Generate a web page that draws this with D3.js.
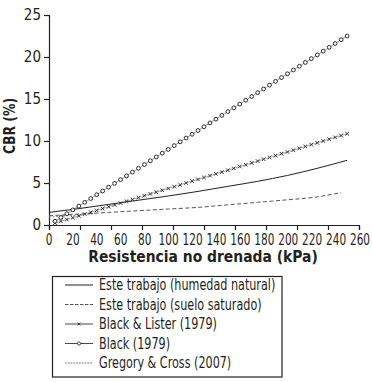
<!DOCTYPE html>
<html><head><meta charset="utf-8">
<script src="https://cdn.jsdelivr.net/npm/d3@7"></script>
<style>
body{margin:0;background:#fff;}
svg{display:block;}
text{font-family:"Liberation Sans Narrow","DejaVu Sans Condensed",sans-serif;fill:#231f20;}
</style></head><body>
<svg id="c" width="372" height="382"></svg>
<script>
const xLabels = ["0","20","40","60","80","100","120","140","160","180","200","220","240","260"];
const yTicks = [0,5,10,15,20,25];
const suMarkers = [5,10,15,20,25,30,35,40,45,50,55,60,65,70,75,80,85,90,95,100,105,110,115,120,125,130,135,140,145,150,155,160,165,170,175,180,185,190,195,200,205,210,215,220,225,230,235,240,245,250];
const blackLister = [0.22,0.43,0.65,0.87,1.09,1.30,1.52,1.74,1.96,2.17,2.39,2.61,2.83,3.04,3.26,3.48,3.70,3.91,4.13,4.35,4.57,4.78,5.00,5.22,5.43,5.65,5.87,6.09,6.30,6.52,6.74,6.96,7.17,7.39,7.61,7.83,8.04,8.26,8.48,8.70,8.91,9.13,9.35,9.57,9.78,10.00,10.22,10.43,10.65,10.87];
const black1979 = [0.45,0.9,1.35,1.8,2.25,2.7,3.15,3.6,4.05,4.5,4.95,5.4,5.85,6.3,6.75,7.2,7.65,8.1,8.55,9.0,9.45,9.9,10.35,10.8,11.25,11.7,12.15,12.6,13.05,13.5,13.95,14.4,14.85,15.3,15.75,16.2,16.65,17.1,17.55,18.0,18.45,18.9,19.35,19.8,20.25,20.7,21.15,21.6,22.05,22.5];
const suNatural = [0,25,50,75,100,125,150,175,200,225,250];
const natural = [1.5,1.95,2.45,2.95,3.45,4.0,4.6,5.2,5.9,6.75,7.7];
const suSaturated = [0,25,50,75,100,125,150,175,200,225,245];
const saturated = [1.1,1.3,1.5,1.7,1.9,2.1,2.4,2.7,3.0,3.35,3.85];
const suGregory = [0,10,20,30,40];
const gregory = [0.95,1.05,1.15,1.25,1.35];
const legendNames = ["Este trabajo (humedad natural)","Este trabajo (suelo saturado)","Black & Lister (1979)","Black (1979)","Gregory & Cross (2007)"];

const svg = d3.select("#c");
const x = d3.scaleLinear().domain([0,260]).range([49,359]);
const y = d3.scaleLinear().domain([0,25]).range([225,15]);
const xl = d3.scalePoint().domain(xLabels).range([49,360]);

// y axis
const ya = svg.append("g").attr("transform","translate(49,0)")
  .call(d3.axisLeft(y).tickValues(yTicks).tickSize(5).tickPadding(3));
ya.select(".domain").attr("stroke","#231f20").attr("stroke-width",1.2);
ya.selectAll(".tick line").attr("stroke","#231f20").attr("stroke-width",1.2);
ya.selectAll(".tick text").style("font-size","15px").style("font-family",null).attr("fill","#231f20");

// x axis (ticks)
const xa = svg.append("g").attr("transform","translate(0,225)")
  .call(d3.axisBottom(x).tickValues(d3.range(0,261,26)).tickSize(5).tickFormat(""));
xa.select(".domain").attr("stroke","#231f20").attr("stroke-width",1.2);
xa.selectAll(".tick line").attr("stroke","#231f20").attr("stroke-width",1.2);

// x labels
svg.append("g").selectAll("text").data(xLabels).join("text")
  .attr("transform",d=>`translate(${xl(d)},245) scale(0.78,1)`)
  .attr("text-anchor","middle").style("font-size","15px").text(d=>d);

svg.append("text").attr("transform","translate(203,262) scale(1.03,1)").attr("text-anchor","middle")
  .style("font-size","15px").style("font-weight","bold").text("Resistencia no drenada (kPa)");
svg.append("text").attr("transform","translate(15,126) rotate(-90) scale(0.92,1)").attr("text-anchor","middle")
  .style("font-size","15px").style("font-weight","bold").text("CBR (%)");

const line = d3.line().x(d=>x(d[0])).y(d=>y(d[1]));
const lineC = d3.line().x(d=>x(d[0])).y(d=>y(d[1])).curve(d3.curveMonotoneX);
const plot = svg.append("g");

plot.append("path").datum(suSaturated.map((s,i)=>[s,saturated[i]])).attr("d",lineC)
  .attr("fill","none").attr("stroke","#555").attr("stroke-width",1).attr("stroke-dasharray","4,2.5");
plot.append("path").datum(suGregory.map((s,i)=>[s,gregory[i]])).attr("d",line)
  .attr("fill","none").attr("stroke","#777").attr("stroke-width",0.8).attr("stroke-dasharray","2,1.5");
plot.append("path").datum(suNatural.map((s,i)=>[s,natural[i]])).attr("d",lineC)
  .attr("fill","none").attr("stroke","#231f20").attr("stroke-width",1);

const bl = suMarkers.map((s,i)=>[s,blackLister[i]]);
plot.append("path").datum(bl).attr("d",line).attr("fill","none").attr("stroke","#555").attr("stroke-width",0.5);
plot.append("g").selectAll("path").data(bl).join("path")
  .attr("d",d=>{const cx=x(d[0]),cy=y(d[1]),r=1.8;return `M${cx-r},${cy-r}L${cx+r},${cy+r}M${cx-r},${cy+r}L${cx+r},${cy-r}`;})
  .attr("stroke","#333").attr("stroke-width",1);

const bk = suMarkers.map((s,i)=>[s,black1979[i]]);
plot.append("path").datum(bk).attr("d",line).attr("fill","none").attr("stroke","#555").attr("stroke-width",0.6);
plot.append("g").selectAll("circle").data(bk).join("circle")
  .attr("cx",d=>x(d[0])).attr("cy",d=>y(d[1])).attr("r",1.9)
  .attr("fill","#fff").attr("stroke","#2a2a2a").attr("stroke-width",1);

// legend
const lg = svg.append("g");
lg.append("rect").attr("x",52.5).attr("y",276.5).attr("width",229.5).attr("height",100.5)
  .attr("fill","none").attr("stroke","#231f20").attr("stroke-width",1.2);
const rowY = d3.scalePoint().domain(legendNames).range([285,363]);
const styles = [
  {stroke:"#231f20",dash:null,w:1},
  {stroke:"#555",dash:"3.5,1.5",w:1},
  {stroke:"#333",dash:null,w:0.9,m:"x"},
  {stroke:"#333",dash:null,w:0.9,m:"o"},
  {stroke:"#555",dash:"1.8,1",w:0.8}
];
legendNames.forEach((n,i)=>{
  const yy = rowY(n), st = styles[i];
  lg.append("line").attr("x1",65).attr("x2",93).attr("y1",yy).attr("y2",yy)
    .attr("stroke",st.stroke).attr("stroke-width",st.w).attr("stroke-dasharray",st.dash);
  if(st.m==="x"){const r=1.4;lg.append("path").attr("d",`M${79-r},${yy-r}L${79+r},${yy+r}M${79-r},${yy+r}L${79+r},${yy-r}`).attr("stroke","#333").attr("stroke-width",0.9);}
  if(st.m==="o"){lg.append("circle").attr("cx",79).attr("cy",yy).attr("r",1.6).attr("fill","#fff").attr("stroke","#333").attr("stroke-width",0.9);}
  lg.append("text").attr("transform",`translate(99,${yy+5}) scale(0.83,1)`).style("font-size","15px").text(n);
});
</script></body></html>
